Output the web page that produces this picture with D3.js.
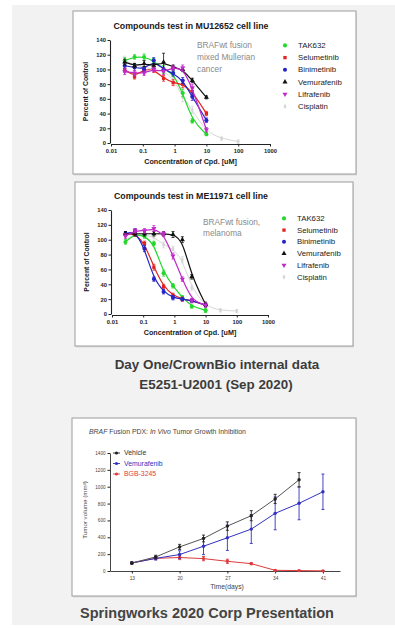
<!DOCTYPE html>
<html>
<head>
<meta charset="utf-8">
<script src="https://cdn.jsdelivr.net/npm/d3@7"></script>
<style>
  html, body { margin: 0; padding: 0; background: #fff; }
  svg { display: block; font-family: "Liberation Sans", Arial, sans-serif; }
</style>
</head>
<body>
<svg id="fig" width="395" height="628"></svg>
<script>
// ---- data: dose response panels ----
const compounds = ['TAK632', 'Selumetinib', 'Binimetinib', 'Vemurafenib', 'Lifrafenib', 'Cisplatin'];
const compoundColors = ['#22d82a', '#e2231f', '#2424c8', '#111111', '#c02ac8', '#d6d6d6'];
const conc = [0.027, 0.055, 0.11, 0.22, 0.45, 0.9, 1.8, 3.6, 10];
const cisConc = [0.027, 0.055, 0.11, 0.22, 0.45, 0.9, 1.8, 3.6, 10, 30, 100];
const concTicks = [0.01, 0.1, 1, 10, 100, 1000];
const pctTicks = [0, 20, 40, 60, 80, 100, 120, 140];

// MU12652 (% of control), same order as compounds
const muPct = [
  [112, 117, 117, 112, 100, 95, 68, 30, 12],
  [100, 90, 100, 100, 88, 82, 80, 70, 40],
  [105, 103, 100, 112, 100, 95, 85, 63, 31],
  [110, 105, 108, 105, 110, 103, 100, 85, 62],
  [97, 95, 95, 100, 97, 102, 102, 75, 18],
  [112, 106, 103, 100, 98, 88, 62, 45, 15, 6, 2]
];
const muErr = [
  [4, 3, 4, 3, 5, 4, 5, 3, 2],
  [4, 3, 3, 4, 4, 4, 5, 4, 3],
  [4, 5, 3, 4, 3, 4, 4, 5, 3],
  [4, 3, 4, 3, 12, 3, 3, 3, 2],
  [4, 4, 3, 3, 4, 3, 4, 5, 3],
  [6, 4, 4, 4, 4, 4, 6, 5, 3, 2, 2]
];

// ME11971 (% of control)
const mePct = [
  [97, 108, 105, 95, 55, 38, 22, 10, 5],
  [108, 108, 95, 63, 37, 25, 20, 18, 12],
  [108, 112, 88, 47, 30, 22, 20, 18, 12],
  [108, 108, 108, 108, 108, 107, 100, 50, 13],
  [105, 112, 112, 115, 108, 78, 47, 18, 12],
  [100, 108, 106, 104, 93, 88, 73, 35, 10, 5, 4]
];
const meErr = [
  [3, 3, 3, 3, 4, 3, 3, 2, 3],
  [3, 3, 3, 4, 3, 3, 3, 2, 2],
  [3, 3, 4, 3, 3, 3, 2, 2, 2],
  [3, 3, 3, 3, 3, 4, 4, 3, 3],
  [3, 3, 3, 4, 3, 4, 3, 3, 3],
  [5, 3, 3, 3, 4, 3, 4, 3, 2, 2, 2]
];

// ---- data: in vivo panel ----
const groups = ['Vehicle', 'Vemurafenib', 'BGB-3245'];
const groupColors = ['#222222', '#3232c0', '#e03a3a'];
const days = [13, 16.5, 20, 23.5, 27, 30.5, 34, 37.5, 41];
const dayTicks = [13, 20, 27, 34, 41];
const volTicks = [0, 200, 400, 600, 800, 1000, 1200, 1400];
const vehicleVol = [95, 167, 286, 386, 533, 656, 855, 1082];
const vehicleErr = [10, 20, 30, 40, 50, 60, 55, 85];
const vemuVol = [95, 150, 195, 294, 394, 497, 684, 803, 940];
const vemuErr = [10, 20, 45, 100, 150, 170, 195, 195, 210];
const bgbVol = [95, 150, 160, 147, 115, 87, 8, 5, 2];
const bgbErr = [10, 15, 25, 25, 25, 12, 5, 4, 3];

const svg = d3.select('#fig');
const FONT = '"Liberation Sans", Arial, sans-serif';

svg.append('rect').attr('x', 12).attr('y', 5).attr('width', 383).attr('height', 620).attr('fill', '#f2f2f2');

function panel(x, y, w, h, id) {
  svg.append('clipPath').attr('id', id)
    .append('rect').attr('x', x).attr('y', y).attr('width', w).attr('height', h);
  svg.append('rect').attr('x', x + 1).attr('y', y + 1.5).attr('width', w).attr('height', h).attr('fill', '#dcdcdc');
  svg.append('rect').attr('x', x).attr('y', y).attr('width', w).attr('height', h)
    .attr('fill', '#fff').attr('stroke', '#9c9c9c').attr('stroke-width', 1);
  return svg.append('g').attr('clip-path', 'url(#' + id + ')');
}

function styleAxis(a, size, bold) {
  a.attr('font-family', FONT);
  a.select('.domain').attr('stroke', '#222').attr('stroke-width', 1.1);
  a.selectAll('.tick line').attr('stroke', '#222');
  a.selectAll('text').attr('font-size', size).attr('fill', '#222')
    .attr('font-weight', bold ? 'bold' : 'normal');
}

const symbols = [d3.symbolCircle, d3.symbolSquare, d3.symbolCircle, d3.symbolTriangle, d3.symbolTriangle, d3.symbolDiamond];
const symbolSizes = [13, 11, 13, 11, 11, 8];

function doseChart(g, cfg) {
  const x = d3.scaleLog().domain([0.01, 1000]).range(cfg.xr);
  const y = d3.scaleLinear().domain([0, 140]).range(cfg.yr);

  g.append('text').attr('x', cfg.titleX).attr('y', cfg.titleY).attr('text-anchor', 'middle')
    .attr('font-size', 8.8).attr('font-weight', 'bold').attr('fill', '#1a1a1a').text(cfg.title);

  const ya = g.append('g').attr('transform', 'translate(' + (cfg.xr[0] - 1) + ',0)')
    .call(d3.axisLeft(y).tickValues(pctTicks).tickSize(2.5).tickSizeOuter(0).tickPadding(1.5));
  styleAxis(ya, 5.8, true);
  const xa = g.append('g').attr('transform', 'translate(0,' + (cfg.yr[0] + 1) + ')')
    .call(d3.axisBottom(x).tickValues(concTicks).tickFormat(d => String(d)).tickSize(2.5).tickSizeOuter(0).tickPadding(2));
  styleAxis(xa, 5.8, true);

  g.append('text').attr('x', (cfg.xr[0] + cfg.xr[1]) / 2).attr('y', cfg.yr[0] + 21)
    .attr('text-anchor', 'middle').attr('font-size', 7.2).attr('font-weight', 'bold').attr('fill', '#1a1a1a')
    .text('Concentration of Cpd. [uM]');
  g.append('text').attr('transform', 'translate(' + (cfg.xr[0] - 23) + ',' + ((cfg.yr[0] + cfg.yr[1]) / 2) + ') rotate(-90)')
    .attr('text-anchor', 'middle').attr('font-size', 6.8).attr('font-weight', 'bold').attr('fill', '#1a1a1a')
    .text('Percent of Control');

  cfg.note.forEach((t, i) => {
    g.append('text').attr('x', cfg.noteX).attr('y', cfg.noteY + i * cfg.noteDy)
      .attr('font-size', 8.3).attr('fill', '#8a8a8a').text(t);
  });

  const order = [5, 0, 1, 2, 3, 4];
  order.forEach(i => {
    const xs = i === 5 ? cisConc : conc;
    const pts = xs.map((c, j) => ({ c: c, v: cfg.pct[i][j], e: cfg.err[i][j] }));
    const line = d3.line().x(d => x(d.c)).y(d => y(d.v)).curve(d3.curveBasis);
    g.append('path').datum(pts).attr('fill', 'none').attr('stroke', compoundColors[i])
      .attr('stroke-width', i === 5 ? 1 : 1.2).attr('d', line);
    const eg = g.append('g').attr('stroke', compoundColors[i]).attr('stroke-width', 0.8);
    pts.forEach(d => {
      eg.append('line').attr('x1', x(d.c)).attr('x2', x(d.c)).attr('y1', y(d.v - d.e)).attr('y2', y(d.v + d.e));
      [d.v - d.e, d.v + d.e].forEach(v => {
        eg.append('line').attr('x1', x(d.c) - 1.5).attr('x2', x(d.c) + 1.5).attr('y1', y(v)).attr('y2', y(v));
      });
    });
    g.append('g').selectAll('path').data(pts).enter().append('path')
      .attr('d', d3.symbol().type(symbols[i]).size(symbolSizes[i]))
      .attr('transform', d => 'translate(' + x(d.c) + ',' + y(d.v) + ')' + (i === 4 ? ' rotate(180)' : ''))
      .attr('fill', compoundColors[i]);
  });

  compounds.forEach((name, i) => {
    const ly = cfg.legY + i * cfg.legDy;
    g.append('path').attr('d', d3.symbol().type(symbols[i]).size(symbolSizes[i]))
      .attr('transform', 'translate(' + cfg.legX + ',' + (ly - 2.6) + ')' + (i === 4 ? ' rotate(180)' : ''))
      .attr('fill', compoundColors[i]);
    g.append('text').attr('x', cfg.legX + 13).attr('y', ly).attr('font-size', 7.8).attr('fill', '#222').text(name);
  });
}

// panel 1
const g1 = panel(73, 11, 283, 163, 'clip1');
doseChart(g1, {
  title: 'Compounds test in MU12652 cell line', titleX: 191, titleY: 29,
  xr: [111, 270], yr: [143, 40],
  pct: muPct, err: muErr,
  note: ['BRAFwt fusion', 'mixed Mullerian', 'cancer'], noteX: 197, noteY: 48, noteDy: 12,
  legX: 285, legY: 48, legDy: 12.2
});

// panel 2
const g2 = panel(75, 182, 278, 164, 'clip2');
doseChart(g2, {
  title: 'Compounds test in ME11971 cell line', titleX: 191, titleY: 199,
  xr: [112, 268], yr: [314, 210],
  pct: mePct, err: meErr,
  note: ['BRAFwt fusion,', 'melanoma'], noteX: 203, noteY: 225, noteDy: 11,
  legX: 284, legY: 221, legDy: 11.7
});

// captions
svg.append('text').attr('x', 217).attr('y', 369).attr('text-anchor', 'middle')
  .attr('font-size', 13.4).attr('font-weight', 'bold').attr('fill', '#3c3c3c').text('Day One/CrownBio internal data');
svg.append('text').attr('x', 216).attr('y', 389).attr('text-anchor', 'middle')
  .attr('font-size', 13.4).attr('font-weight', 'bold').attr('fill', '#3c3c3c').text('E5251-U2001 (Sep 2020)');

// panel 3: in vivo
const g3 = panel(72, 418, 284, 178, 'clip3');
{
  const x = d3.scaleLinear().domain([9.8, 43.5]).range([110, 340]);
  const y = d3.scaleLinear().domain([0, 1400]).range([571, 453]);

  const t = g3.append('text').attr('x', 89).attr('y', 434).attr('font-size', 6.9).attr('fill', '#444');
  t.append('tspan').attr('font-style', 'italic').text('BRAF');
  t.append('tspan').text(' Fusion PDX: ');
  t.append('tspan').attr('font-style', 'italic').text('In Vivo');
  t.append('tspan').text(' Tumor Growth Inhibition');

  const ya = g3.append('g').attr('transform', 'translate(110,0)')
    .call(d3.axisLeft(y).tickValues(volTicks).tickFormat(d3.format('d')).tickSize(2.5).tickSizeOuter(0).tickPadding(2));
  styleAxis(ya, 4.6, false);
  ya.select('.domain').attr('stroke', '#444').attr('stroke-width', 1);
  ya.selectAll('text').attr('fill', '#444');
  const xa = g3.append('g').attr('transform', 'translate(0,571)')
    .call(d3.axisBottom(x).tickValues(dayTicks).tickSize(2.5).tickSizeOuter(0).tickPadding(3));
  styleAxis(xa, 4.8, false);
  xa.select('.domain').attr('stroke', '#444').attr('stroke-width', 1);
  xa.selectAll('text').attr('fill', '#444');

  g3.append('text').attr('x', 227).attr('y', 589).attr('text-anchor', 'middle')
    .attr('font-size', 6.8).attr('fill', '#444').text('Time(days)');
  g3.append('text').attr('transform', 'translate(87,510) rotate(-90)').attr('text-anchor', 'middle')
    .attr('font-size', 6.2).attr('fill', '#444').text('Tumor volume (mm³)');

  const series = [
    { vals: vehicleVol, err: vehicleErr },
    { vals: vemuVol, err: vemuErr },
    { vals: bgbVol, err: bgbErr }
  ];
  [2, 1, 0].forEach(i => {
    const s = series[i];
    const pts = s.vals.map((v, j) => ({ d: days[j], v: v, e: s.err[j] }));
    const col = groupColors[i];
    const eg = g3.append('g').attr('stroke', col).attr('stroke-width', 0.9);
    pts.forEach(p => {
      eg.append('line').attr('x1', x(p.d)).attr('x2', x(p.d)).attr('y1', y(Math.max(0, p.v - p.e))).attr('y2', y(p.v + p.e));
      [Math.max(0, p.v - p.e), p.v + p.e].forEach(v => {
        eg.append('line').attr('x1', x(p.d) - 1.5).attr('x2', x(p.d) + 1.5).attr('y1', y(v)).attr('y2', y(v));
      });
    });
    g3.append('path').datum(pts).attr('fill', 'none').attr('stroke', i === 0 ? '#555' : col)
      .attr('stroke-width', 1).attr('d', d3.line().x(p => x(p.d)).y(p => y(p.v)));
    g3.append('g').selectAll('circle').data(pts).enter().append('circle')
      .attr('cx', p => x(p.d)).attr('cy', p => y(p.v)).attr('r', 1.7).attr('fill', col);
  });

  groups.forEach((name, i) => {
    const ly = 455 + i * 10.5;
    g3.append('line').attr('x1', 113).attr('x2', 120).attr('y1', ly - 2).attr('y2', ly - 2)
      .attr('stroke', groupColors[i]).attr('stroke-width', 0.9);
    g3.append('circle').attr('cx', 116.5).attr('cy', ly - 2).attr('r', 1.6).attr('fill', groupColors[i]);
    g3.append('text').attr('x', 124).attr('y', ly).attr('font-size', 6.9)
      .attr('fill', i === 0 ? '#333' : groupColors[i]).text(name);
  });
}

svg.append('text').attr('x', 207).attr('y', 618).attr('text-anchor', 'middle')
  .attr('font-size', 14.5).attr('font-weight', 'bold').attr('fill', '#444').text('Springworks 2020 Corp Presentation');
</script>
</body>
</html>
